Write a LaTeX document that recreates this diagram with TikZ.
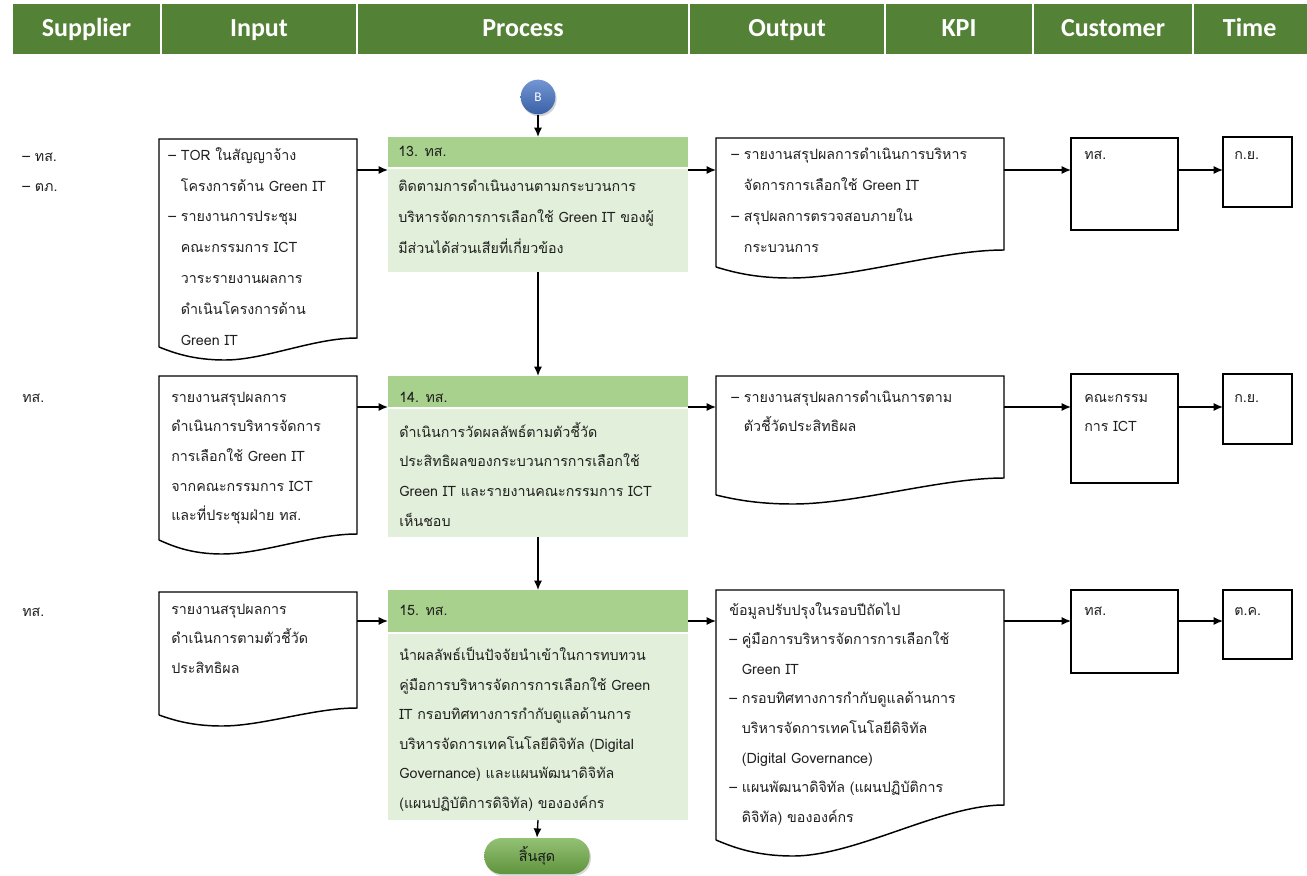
\documentclass[tikz,border=0pt]{standalone}
\usepackage{fontspec}
\usetikzlibrary{fit,shadows,arrows.meta}
\newfontfamily\thai[Script=Thai]{Loma}
\newfontfamily\hdrfont{Carlito}
\definecolor{hdrgreen}{HTML}{538135}
\definecolor{prochdr}{HTML}{A9D18E}
\definecolor{procbody}{HTML}{E2EFDA}
\definecolor{bblue}{HTML}{4472C4}
\definecolor{endgreen}{HTML}{70AD47}
\newcommand{\fl}{\rule{0pt}{9pt}}
\newcommand{\ind}{\phantom{– }}
\newcommand{\docpath}[7]{%
 \draw[docline] (#1,#4) -- (#1,#2) -- (#3,#2) -- (#3,#5)
 .. controls ({#3-0.22*(#3-#1)},#5) and ({#6+0.3*(#3-#6)},#7) .. (#6,#7)
 .. controls ({#6-0.5*(#6-#1)},#7) and ({#1+0.2*(#6-#1)},{#4+0.4*(#7-#4)}) .. (#1,#4);}
\tikzset{
 arr/.style={-{Latex[length=7pt,width=6pt]}, line width=1pt},
 docline/.style={line width=1.1pt},
 area/.style={inner sep=0pt, outer sep=0pt},
 hcell/.style={area, fill=hdrgreen, draw=white, line width=1.5pt},
 htext/.style={text=white, inner sep=0pt, anchor=base, font=\hdrfont\bfseries\fontsize{19.5}{22}\selectfont},
 phdr/.style={area, fill=prochdr},
 pbody/.style={area, fill=procbody},
 sbox/.style={area, draw, line width=1.1pt},
 tx/.style={anchor=north west, inner sep=0pt, align=left, text=black!88, font=\thai\fontsize{10.7}{22.5}\selectfont},
 txa/.style={tx, font=\thai\fontsize{10.7}{23.2}\selectfont},
 txb/.style={tx, font=\thai\fontsize{10.7}{22.2}\selectfont},
 txc/.style={tx, font=\thai\fontsize{10.7}{21.8}\selectfont},
}
\begin{document}
\begin{tikzpicture}[x=0.75pt,y=-0.75pt]
\useasboundingbox (0,0) rectangle (1307,875);
% header
\node[hcell, fit={(12,3) (161,55)}] (hs) {};
\node[hcell, fit={(161,3) (357,55)}] (hi) {};
\node[hcell, fit={(357,3) (689,55)}] (hp) {};
\node[hcell, fit={(689,3) (885,55)}] (ho) {};
\node[hcell, fit={(885,3) (1033,55)}] (hk) {};
\node[hcell, fit={(1033,3) (1193,55)}] (hc) {};
\node[hcell, fit={(1193,3) (1309,55)}] (ht) {};
\coordinate (hb) at (0,36);
\node[htext] (hst) at (hs.center |- hb) {Supplier};
\node[htext] (hit) at (hi.center |- hb) {Input};
\node[htext] (hpt) at (hp.center |- hb) {Process};
\node[htext] (hot) at (ho.center |- hb) {Output};
\node[htext] (hkt) at (hk.center |- hb) {KPI};
\node[htext] (hct) at (hc.center |- hb) {Customer};
\node[htext] (htt) at ([xshift=-1pt]ht.center |- hb) {Time};

% row reference coordinates
\coordinate (r1) at (0,170);
\coordinate (r2) at (0,407);
\coordinate (r3) at (0,621);

% connector B
\node[circle, minimum size=26pt, inner sep=0pt, top color=bblue!75!white, bottom color=bblue!85!black, draw=none,
  drop shadow={opacity=0.35, shadow xshift=1pt, shadow yshift=-1.5pt}, text=white, font=\hdrfont\fontsize{10}{11}\selectfont] (b) at (538,97) {B};

% suppliers
\node[tx] (s1) at (22,149) {\fl– ทส.\\– ตภ.};
\node[tx] (s2) at (22,390) {\fl ทส.};
\node[tx] (s3) at (22,604) {\fl ทส.};

% inputs
\docpath{159}{139}{357}{347}{338}{225}{360}
\node[area, fit={(159,139) (357,338)}] (in1) {};
\node[txa] (in1t) at (168,147) {\fl– TOR ในสัญญาจ้าง\\\ind โครงการด้าน Green IT\\– รายงานการประชุม\\\ind คณะกรรมการ ICT\\\ind วาระรายงานผลการ\\\ind ดำเนินโครงการด้าน\\\ind Green IT};

\docpath{159}{376}{357}{540}{534}{222}{554}
\node[area, fit={(159,376) (357,534)}] (in2) {};
\node[txb] (in2t) at (171,390) {\fl รายงานสรุปผลการ\\ดำเนินการบริหารจัดการ\\การเลือกใช้ Green IT\\จากคณะกรรมการ ICT\\และที่ประชุมฝ่าย ทส.};

\docpath{159}{592}{357}{715}{708}{222}{726}
\node[area, fit={(159,592) (357,708)}] (in3) {};
\node[txb] (in3t) at (171,602) {\fl รายงานสรุปผลการ\\ดำเนินการตามตัวชี้วัด\\ประสิทธิผล};

% process
\node[phdr, fit={(388,137) (688,167)}] (p13h) {};
\node[pbody, fit={(388,169) (688,272)}] (p13) {};
\node[tx] (p13ht) at (398,144) {\fl 13. ทส.};
\node[txa] (p13t) at (398,179) {\fl ติดตามการดำเนินงานตามกระบวนการ\\บริหารจัดการการเลือกใช้ Green IT ของผู้\\มีส่วนได้ส่วนเสียที่เกี่ยวข้อง};

\node[phdr, fit={(388,376) (688,407)}] (p14h) {};
\node[pbody, fit={(388,409) (688,537)}] (p14) {};
\node[tx] (p14ht) at (399,390) {\fl 14. ทส.};
\node[txb] (p14t) at (399,422) {\fl ดำเนินการวัดผลลัพธ์ตามตัวชี้วัด\\ประสิทธิผลของกระบวนการการเลือกใช้\\Green IT และรายงานคณะกรรมการ ICT\\เห็นชอบ};

\node[phdr, fit={(388,590) (688,632)}] (p15h) {};
\node[pbody, fit={(388,634) (688,820)}] (p15) {};
\node[tx] (p15ht) at (399,603) {\fl 15. ทส.};
\node[txb] (p15t) at (399,647) {\fl นำผลลัพธ์เป็นปัจจัยนำเข้าในการทบทวน\\คู่มือการบริหารจัดการการเลือกใช้ Green\\IT กรอบทิศทางการกำกับดูแลด้านการ\\บริหารจัดการเทคโนโลยีดิจิทัล (Digital\\Governance) และแผนพัฒนาดิจิทัล\\(แผนปฏิบัติการดิจิทัล) ขององค์กร};

% end terminal
\node[rectangle, rounded corners=13pt, minimum width=79pt, minimum height=27pt, inner sep=0pt,
  top color=endgreen!75!white, bottom color=endgreen!85!black, draw=none,
  drop shadow={opacity=0.3, shadow xshift=1pt, shadow yshift=-1.5pt}, text=black!90,
  font=\thai\fontsize{10.7}{12}\selectfont] (end) at (537,856) {สิ้นสุด};

% outputs
\docpath{716}{138}{1004}{267}{250}{790}{278}
\node[area, fit={(716,138) (1004,250)}] (out1) {};
\node[txa] (out1t) at (731,147) {\fl– รายงานสรุปผลการดำเนินการบริหาร\\\ind จัดการการเลือกใช้ Green IT\\– สรุปผลการตรวจสอบภายใน\\\ind กระบวนการ};

\docpath{716}{376}{1004}{495}{478}{793}{504}
\node[area, fit={(716,376) (1004,478)}] (out2) {};
\node[txc] (out2t) at (731,390) {\fl– รายงานสรุปผลการดำเนินการตาม\\\ind ตัวชี้วัดประสิทธิผล};

\docpath{716}{590}{1004}{840}{805}{793}{856}
\node[area, fit={(716,590) (1004,805)}] (out3) {};
\node[txb] (out3t) at (729,602) {\fl ข้อมูลปรับปรุงในรอบปีถัดไป\\– คู่มือการบริหารจัดการการเลือกใช้\\\ind Green IT\\– กรอบทิศทางการกำกับดูแลด้านการ\\\ind บริหารจัดการเทคโนโลยีดิจิทัล\\\ind (Digital Governance)\\– แผนพัฒนาดิจิทัล (แผนปฏิบัติการ\\\ind ดิจิทัล) ขององค์กร};

% customers
\node[sbox, fit={(1071,138) (1178,230)}] (c1) {};
\node[tx] (c1t) at (1084,147) {\fl ทส.};
\node[sbox, fit={(1071,374) (1178,483)}] (c2) {};
\node[txc] (c2t) at (1084,390) {\fl คณะกรรม\\การ ICT};
\node[sbox, fit={(1071,590) (1178,673)}] (c3) {};
\node[tx] (c3t) at (1084,603) {\fl ทส.};

% time
\node[sbox, fit={(1223,137) (1292,207)}] (t1) {};
\node[tx] (t1t) at (1234,147) {\fl ก.ย.};
\node[sbox, fit={(1223,374) (1292,444)}] (t2) {};
\node[tx] (t2t) at (1234,390) {\fl ก.ย.};
\node[sbox, fit={(1223,590) (1292,659)}] (t3) {};
\node[tx] (t3t) at (1234,603) {\fl ต.ค.};

% vertical connectors
\draw[arr] (b.south) -- (p13h.north);
\draw[arr] (p13.south) -- (p14h.north);
\draw[arr] (p14.south) -- (p15h.north);
\draw[arr] (p15.south) -- (end.north);

% horizontal connectors
\draw[arr] (in1.east |- r1) -- (p13h.west |- r1);
\draw[arr] (p13.east |- r1) -- (out1.west |- r1);
\draw[arr] (out1.east |- r1) -- (c1.west |- r1);
\draw[arr] (c1.east |- r1) -- (t1.west |- r1);

\draw[arr] (in2.east |- r2) -- (p14h.west |- r2);
\draw[arr] (p14.east |- r2) -- (out2.west |- r2);
\draw[arr] (out2.east |- r2) -- (c2.west |- r2);
\draw[arr] (c2.east |- r2) -- (t2.west |- r2);

\draw[arr] (in3.east |- r3) -- (p15h.west |- r3);
\draw[arr] (p15h.east |- r3) -- (out3.west |- r3);
\draw[arr] (out3.east |- r3) -- (c3.west |- r3);
\draw[arr] (c3.east |- r3) -- (t3.west |- r3);
\end{tikzpicture}
\end{document}
